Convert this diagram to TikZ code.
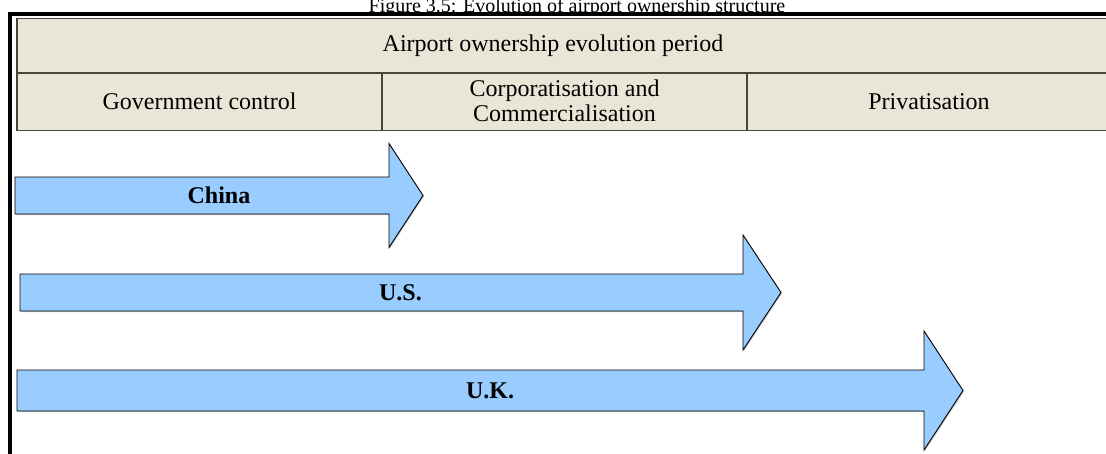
\documentclass[tikz,border=0pt]{standalone}
\usepackage{fontspec}
\setmainfont{Liberation Serif}
\usetikzlibrary{shadows}
\definecolor{cellbeige}{RGB}{234,230,215}
\definecolor{cellline}{RGB}{70,70,62}
\definecolor{arrowblue}{RGB}{153,204,255}
\tikzstyle{cell}=[draw=cellline, fill=cellbeige, line width=1.5pt]
\tikzstyle{celltxt}=[inner sep=0pt, align=center, font=\fontsize{24}{25}\selectfont]
\tikzstyle{country}=[draw=black, fill=arrowblue, line width=0.9pt, line join=miter, drop shadow={shadow xshift=1pt, shadow yshift=-1pt, fill=black!45}]
\tikzstyle{cntlabel}=[inner sep=0pt, font=\fontsize{24}{25}\selectfont\bfseries]

\begin{document}
\begin{tikzpicture}[x=1pt, y=-1pt]
\clip (0,0) rectangle (1106,453);
% caption, its top is cut by the page
\begin{scope}
\clip (0,0) rectangle (1106,12.5);
\node[anchor=base, inner sep=0pt, font=\fontsize{20}{22}\selectfont] (title) at (577,12.5) {Figure 3.5: Evolution of airport ownership structure};
\end{scope}
\draw[line width=4pt] (10,460) -- (10,14) -- (1110,14);

% periods table
\draw[cell] (17,18.5) rectangle (1115,73);
\draw[cell] (17,73) rectangle (382,130.5);
\draw[cell] (382,73) rectangle (747,130.5);
\draw[cell] (747,73) rectangle (1115,130.5);
\node[celltxt] (period) at (553,45.5) {Airport ownership evolution period};
\node[celltxt] (govt) at (199.5,101.5) {Government control};
\node[celltxt] (corp) at (564.5,101) {Corporatisation and\\Commercialisation};
\node[celltxt] (priv) at (929,101.5) {Privatisation};

% one block arrow per country
\foreach \name/\xa/\xb/\xc/\yc/\hs/\hh/\lab in {china/15/389/423/195.5/18.5/52/China,
  us/20/743/781/292.5/18.5/57.5/U.S.,
  uk/17/924/963/390.5/20.5/59.5/U.K.}{
\draw[country] (\xa,\yc-\hs) -- (\xb,\yc-\hs) -- (\xb,\yc-\hh) -- (\xc,\yc) -- (\xb,\yc+\hh) -- (\xb,\yc+\hs) -- (\xa,\yc+\hs) -- cycle;
\node[cntlabel] (\name) at ({(\xa+\xc)/2},\yc) {\lab};
}
\end{tikzpicture}
\end{document}
